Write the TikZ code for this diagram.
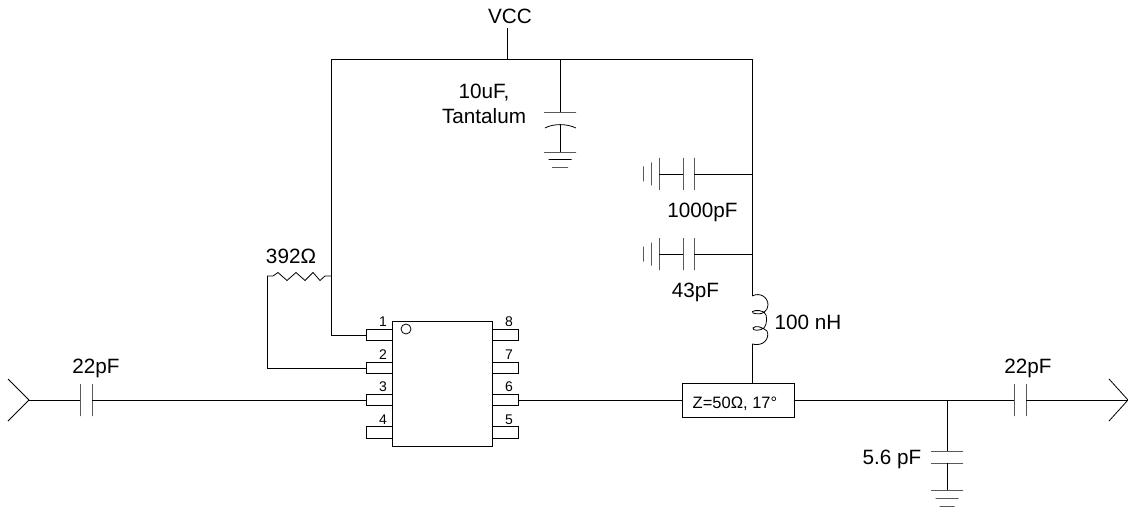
\documentclass[tikz,border=0pt]{standalone}
\usepackage{fontspec}
\setmainfont{Liberation Sans}
\begin{document}
\begin{tikzpicture}[x=1pt,y=-1pt,line width=0.8pt,
	txt/.style = {inner sep = 0pt, font=\fontsize{20.7}{25}\selectfont},
	pinnum/.style = {inner sep = 0pt, font=\fontsize{14}{16}\selectfont},
	pin node/.style = {rectangle,draw, inner sep = 0pt, minimum width = 26pt, minimum height = 11.5pt},
	vplate/.style = {draw, inner sep = 0pt, minimum width = 0pt, minimum height = 32pt},
	hplate/.style = {draw, inner sep = 0pt, minimum height = 0pt, minimum width = 32pt}]
	
	\useasboundingbox (0,0) rectangle (1128,508);
	
	% supply rail
	\node[txt] at (510,16.5) (vcc) {VCC};
	\coordinate (vcc top) at (507,28);
	\coordinate (rail v) at (507,59);
	\coordinate (rail l) at (331,59);
	\coordinate (rail t) at (560,59);
	\coordinate (rail r) at (752,59);
	\coordinate (res r) at (331,276);
	\coordinate (res l) at (267,276);
	\coordinate (bend 2) at (267,368);
	\coordinate (bend 1) at (331,335);
	
	% chip
	\node[pin node] at (379,335) (p1) {};
	\node[pin node] at (379,368) (p2) {};
	\node[pin node] at (379,400) (p3) {};
	\node[pin node] at (379,432.5) (p4) {};
	\node[pin node] at (505.5,335) (p8) {};
	\node[pin node] at (505.5,368) (p7) {};
	\node[pin node] at (505.5,400) (p6) {};
	\node[pin node] at (505.5,432.5) (p5) {};
	\node[rectangle,draw,fill=white,minimum width=99.5pt,minimum height=125pt,inner sep=0pt] at (442.5,383.5) (chip) {};
	\node[circle,draw,inner sep=0pt,minimum size=10pt] at (406,329) (dot) {};
	\node[pinnum] at (383,322) (n1) {1};
	\node[pinnum] at (383,354.5) (n2) {2};
	\node[pinnum] at (383,387) (n3) {3};
	\node[pinnum] at (383,419.5) (n4) {4};
	\node[pinnum] at (509,322) (n8) {8};
	\node[pinnum] at (509,354.5) (n7) {7};
	\node[pinnum] at (509,387) (n6) {6};
	\node[pinnum] at (509,419.5) (n5) {5};
	
	% input side
	\coordinate (in a) at (8,379);
	\coordinate (in tip) at (29,400);
	\coordinate (in b) at (8,421);
	\node[vplate] at (80,400) (c1a) {};
	\node[vplate] at (92,400) (c1b) {};
	
	% tantalum cap
	\node[hplate] at (560,112) (ct) {};
	\coordinate (ct b) at (560,124);
	\node[hplate] at (560,152) (gt1) {};
	\node[hplate,minimum width=23pt] at (560,159.5) (gt2) {};
	\node[hplate,minimum width=16pt] at (560,167) (gt3) {};
	
	% bypass caps
	\coordinate (j1) at (752,174);
	\node[vplate] at (694,174) (c2a) {};
	\node[vplate] at (683,174) (c2b) {};
	\node[vplate] at (659,174) (g2a) {};
	\node[vplate,minimum height=23pt] at (651,174) (g2b) {};
	\node[vplate,minimum height=15pt] at (643,174) (g2c) {};
	\coordinate (j2) at (752,254);
	\node[vplate] at (694,254) (c3a) {};
	\node[vplate] at (683,254) (c3b) {};
	\node[vplate] at (659,254) (g3a) {};
	\node[vplate,minimum height=23pt] at (651,254) (g3b) {};
	\node[vplate,minimum height=15pt] at (643,254) (g3c) {};
	\coordinate (l top) at (752,296);
	\coordinate (l bot) at (752,344);
	
	% output side
	\node[rectangle,draw,inner sep=0pt,minimum width=112pt,minimum height=34pt] at (738,400) (tline) {};
	\node[inner sep=0pt,font=\fontsize{16.5}{20}\selectfont] at (735,403.5) (ltline) {Z=50\symbol{"03A9}, 17°};
	\coordinate (tline top) at (752,383);
	\coordinate (j3) at (947,400);
	\node[hplate] at (947,451) (c4a) {};
	\node[hplate] at (947,463) (c4b) {};
	\node[hplate] at (947,490) (g4a) {};
	\node[hplate,minimum width=23pt] at (947,498) (g4b) {};
	\node[hplate,minimum width=15pt] at (947,506) (g4c) {};
	\node[vplate] at (1014,400) (c5a) {};
	\node[vplate] at (1026,400) (c5b) {};
	\coordinate (out a) at (1109,379);
	\coordinate (out tip) at (1128,400);
	\coordinate (out b) at (1109,421);
	
	% labels
	\node[txt] at (291,256) (lr) {392\symbol{"03A9}};
	\node[txt,align=center] at (484,104) (lt) {10uF,\\Tantalum};
	\node[txt] at (702.5,212.5) (lc2) {1000pF};
	\node[txt] at (695.5,292) (lc3) {43pF};
	\node[txt] at (808,322) (ll) {100 nH};
	\node[txt] at (96,368) (lc1) {22pF};
	\node[txt] at (1028,368) (lc5) {22pF};
	\node[txt] at (892,459.5) (lc4) {5.6 pF};
	
	\path[-]
	(vcc top) edge (rail v)
	(rail l) edge (rail r)
	(rail l) edge (bend 1)
	(bend 1) edge (p1.west)
	(res l) edge (bend 2)
	(bend 2) edge (p2.west)
	(rail t) edge (ct)
	(ct b) edge (gt1)
	(rail r) edge (l top)
	(l bot) edge (tline top)
	(j1) edge (c2a)
	(c2b) edge (g2a)
	(j2) edge (c3a)
	(c3b) edge (g3a)
	(in a) edge (in tip)
	(in b) edge (in tip)
	(in tip) edge (c1a)
	(c1b) edge (p3.west)
	(p6.east) edge (tline)
	(tline) edge (c5a)
	(c5b) edge (out tip)
	(out a) edge (out tip)
	(out b) edge (out tip)
	(j3) edge (c4a)
	(c4b) edge (g4a);
	
	% resistor, curved plate and coil
	\draw (res l) -- (273,276) -- (278,272.5) -- (287,280.5) -- (296,272.5) -- (305,280.5) -- (313,272.5) -- (320,280.5) -- (325,276) -- (res r);
	\draw (545,128) .. controls (553,123.5) and (567,123.5) .. (576,128);
	\draw (l top) .. controls (760,292) and (768,297) .. (768,305) .. controls (768,311) and (762,316) .. (753,313) .. controls (750,311) and (758,309) .. (764,312) .. controls (768,315) and (767,325) .. (764,328) .. controls (760,331) and (752,331) .. (753,328) .. controls (756,325) and (762,327) .. (767,331) .. controls (770,338) and (764,347) .. (l bot);
\end{tikzpicture}
\end{document}
